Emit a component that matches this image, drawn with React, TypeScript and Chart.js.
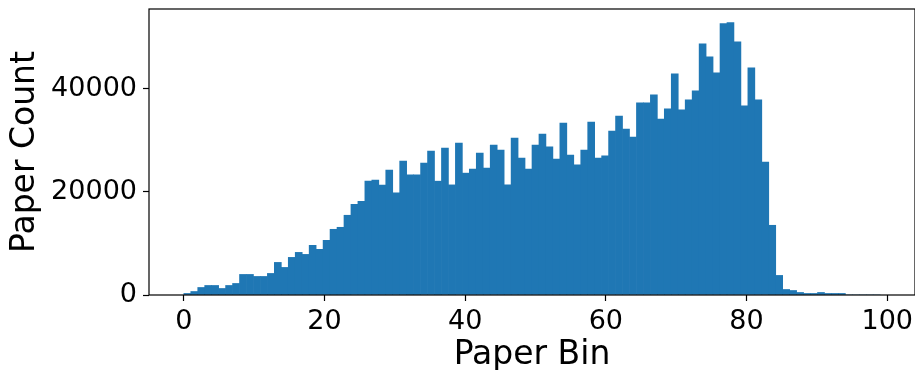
import React, { useEffect, useRef } from "react";
import { Chart, registerables } from "chart.js";

Chart.register(...registerables);

// Histogram: 100 bins of width 0.99 starting at 0 (range 0..99)
const binWidth = 0.99;
const binStartValue = 0;

const counts: number[] = [
  300, 680, 1460, 1850, 1850, 1265, 1850, 2240, 3990, 3990,
  3600, 3600, 4185, 6325, 5350, 7300, 8270, 7880, 9635, 8860,
  10610, 12750, 13140, 15475, 17615, 18200, 22090, 22290, 21310, 24230,
  19820, 25990, 23320, 23320, 25600, 27930, 22090, 28515, 21370, 29490,
  23650, 24430, 27540, 24620, 29100, 28130, 21370, 30460, 26570, 24430,
  29100, 31240, 28770, 26380, 33380, 27150, 25270, 28130, 33580, 26570,
  27020, 31820, 34740, 32210, 30660, 37275, 37275, 38830, 34160, 36110,
  42920, 35910, 37860, 39610, 48760, 46230, 43110, 52650, 52850, 49150,
  36690, 44080, 37860, 25790, 13530, 3800, 1070, 875, 490, 300,
  300, 490, 300, 300, 300, 0, 0, 0, 0, 0,
];

const xTicks: number[] = [0, 20, 40, 60, 80, 100];
const yTicks: number[] = [0, 20000, 40000];
const xRange: number[] = [-4.95, 103.95];
const yRange: number[] = [0, 55500];

const xTitle = "Paper Bin";
const yTitle = "Paper Count";

const FONT = "'DejaVu Sans', sans-serif";

export default function App() {
  const canvasRef = useRef<HTMLCanvasElement | null>(null);

  useEffect(() => {
    const canvas = canvasRef.current;
    if (!canvas) return;

    const data = counts.map((c, i) => ({
      x: binStartValue + (i + 0.5) * binWidth,
      y: c,
    }));

    const spines = {
      id: "spines",
      afterDatasetsDraw(chart: any) {
        const { ctx, chartArea } = chart;
        ctx.save();
        ctx.strokeStyle = "#000";
        ctx.lineWidth = 1.2;
        ctx.strokeRect(
          chartArea.left,
          chartArea.top,
          chartArea.right - chartArea.left,
          chartArea.bottom - chartArea.top
        );
        ctx.restore();
      },
    };

    const chart = new Chart(canvas, {
      type: "bar",
      data: {
        datasets: [
          {
            data: data as any,
            backgroundColor: "#1f77b4",
            borderWidth: 0,
            barPercentage: 1,
            categoryPercentage: 1,
          },
        ],
      },
      options: {
        animation: false,
        responsive: false,
        maintainAspectRatio: false,
        layout: { padding: { top: 9, right: 0, left: 0, bottom: 0 } },
        plugins: {
          legend: { display: false },
          tooltip: { enabled: false },
        },
        scales: {
          x: {
            type: "linear",
            min: xRange[0],
            max: xRange[1],
            offset: false,
            afterBuildTicks: (scale: any) => {
              scale.ticks = xTicks.map((v) => ({ value: v }));
            },
            afterFit: (scale: any) => {
              scale.height = 75;
              scale.paddingLeft = 0;
              scale.paddingRight = 0;
            },
            grid: {
              offset: false,
              drawOnChartArea: false,
              drawTicks: true,
              tickLength: 6,
              tickWidth: 1.2,
              tickColor: "#000",
            },
            border: { display: false },
            ticks: {
              autoSkip: false,
              maxRotation: 0,
              padding: 5,
              color: "#000",
              font: { family: FONT, size: 27 },
              callback: (v: any) => String(v),
            },
            title: {
              display: true,
              text: xTitle,
              color: "#000",
              font: { family: FONT, size: 33, lineHeight: 0.9 },
              padding: { top: 0, bottom: 0 },
            },
          },
          y: {
            type: "linear",
            min: yRange[0],
            max: yRange[1],
            afterBuildTicks: (scale: any) => {
              scale.ticks = yTicks.map((v) => ({ value: v }));
            },
            afterFit: (scale: any) => {
              scale.width = 149;
              scale.paddingTop = 0;
              scale.paddingBottom = 0;
            },
            grid: {
              offset: false,
              drawOnChartArea: false,
              drawTicks: true,
              tickLength: 6,
              tickWidth: 1.2,
              tickColor: "#000",
            },
            border: { display: false },
            ticks: {
              autoSkip: false,
              padding: 6,
              color: "#000",
              font: { family: FONT, size: 27 },
              callback: (v: any) => String(v),
            },
            title: {
              display: true,
              text: yTitle,
              color: "#000",
              font: { family: FONT, size: 33, lineHeight: 0.9 },
              padding: { top: 10.5, bottom: 0 },
            },
          },
        },
      },
      plugins: [spines],
    });

    return () => chart.destroy();
  }, []);

  return (
    <div style={{ position: "fixed", left: 0, top: 0, width: 915, height: 370 }}>
      <canvas ref={canvasRef} width={915} height={370} style={{ width: 915, height: 370 }} />
    </div>
  );
}
